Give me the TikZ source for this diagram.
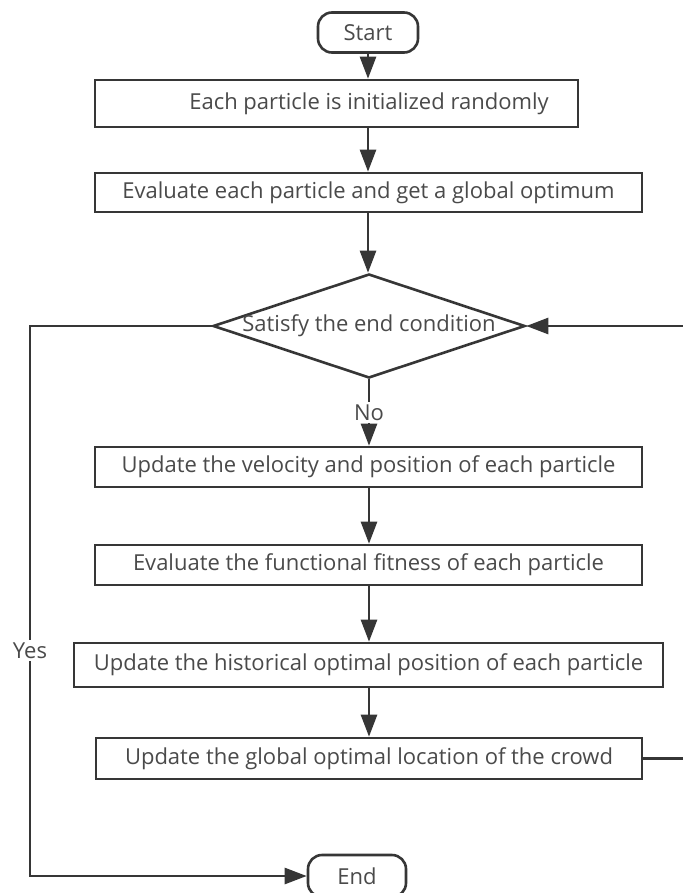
\documentclass[tikz,border=0pt]{standalone}
\usepackage{fontspec}
\setmainfont{Open Sans}
\usetikzlibrary{positioning,shapes.geometric,arrows.meta}

\definecolor{linegray}{HTML}{363636}
\definecolor{textgray}{HTML}{4A4A4A}

\tikzset{
	box/.style={draw=linegray, line width=1.3pt, fill=white, text=textgray, inner sep=0pt, font=\fontsize{11pt}{13pt}\selectfont},
	term/.style={box, rounded corners=7pt},
	cond/.style={box, diamond, aspect=3},
	arr/.style={draw=linegray, line width=1.3pt, -{Triangle[length=11pt,width=8pt]}},
	lbl/.style={fill=white, text=textgray, inner sep=1.5pt, font=\fontsize{11pt}{13pt}\selectfont}
}

\begin{document}
\begin{tikzpicture}[x=0.5pt, y=-0.5pt]
		\useasboundingbox[fill=white] (0,0) rectangle (683,893);
		\node[term, minimum width=50pt, minimum height=20pt] (start) at (368,32.5) {Start};
		\node[box, minimum width=241.5pt, minimum height=23.5pt] (init) at (336.5,103.5) {\hspace*{32.5pt}Each particle is initialized randomly};
		\node[box, minimum width=273.5pt, minimum height=19.5pt] (eval) at (368.5,192.5) {Evaluate each particle and get a global optimum};
		\node[cond, minimum width=156pt, minimum height=52pt] (check) at (369,326) {\makebox[0pt]{Satisfy the end condition}};
		\node[box, minimum width=273.5pt, minimum height=20pt] (velo) at (368.5,467) {Update the velocity and position of each particle};
		\node[box, minimum width=273.5pt, minimum height=20pt] (fitn) at (368.5,565) {Evaluate the functional fitness of each particle};
		\node[box, minimum width=294.5pt, minimum height=22pt] (hist) at (368.5,665) {Update the historical optimal position of each particle};
		\node[box, minimum width=273pt, minimum height=20.5pt] (glob) at (369,758.5) {Update the global optimal location of the crowd};
		\node[term, minimum width=49pt, minimum height=21pt] (stop) at (357,876) {End};
		\coordinate (yescorner) at (30,326);
		\coordinate (backcorner) at (687,758.5);

		\draw[arr] (start) -- (start |- init.north);
		\draw[arr] (start |- init.south) -- (start |- eval.north);
		\draw[arr] (start |- eval.south) -- (start |- check.north);
		\draw[arr] (check.south) -- node[lbl] {No} (check.south |- velo.north);
		\draw[arr] (check.south |- velo.south) -- (check.south |- fitn.north);
		\draw[arr] (check.south |- fitn.south) -- (check.south |- hist.north);
		\draw[arr] (check.south |- hist.south) -- (check.south |- glob.north);
		\draw[arr] (check.west) -- (yescorner) -- node[lbl, pos=0.59] {Yes} (yescorner |- stop.west) -- (stop.west);
		\draw[arr] (glob.east) -- (backcorner) -- (backcorner |- check.east) -- (check.east);
	\end{tikzpicture}
\end{document}
